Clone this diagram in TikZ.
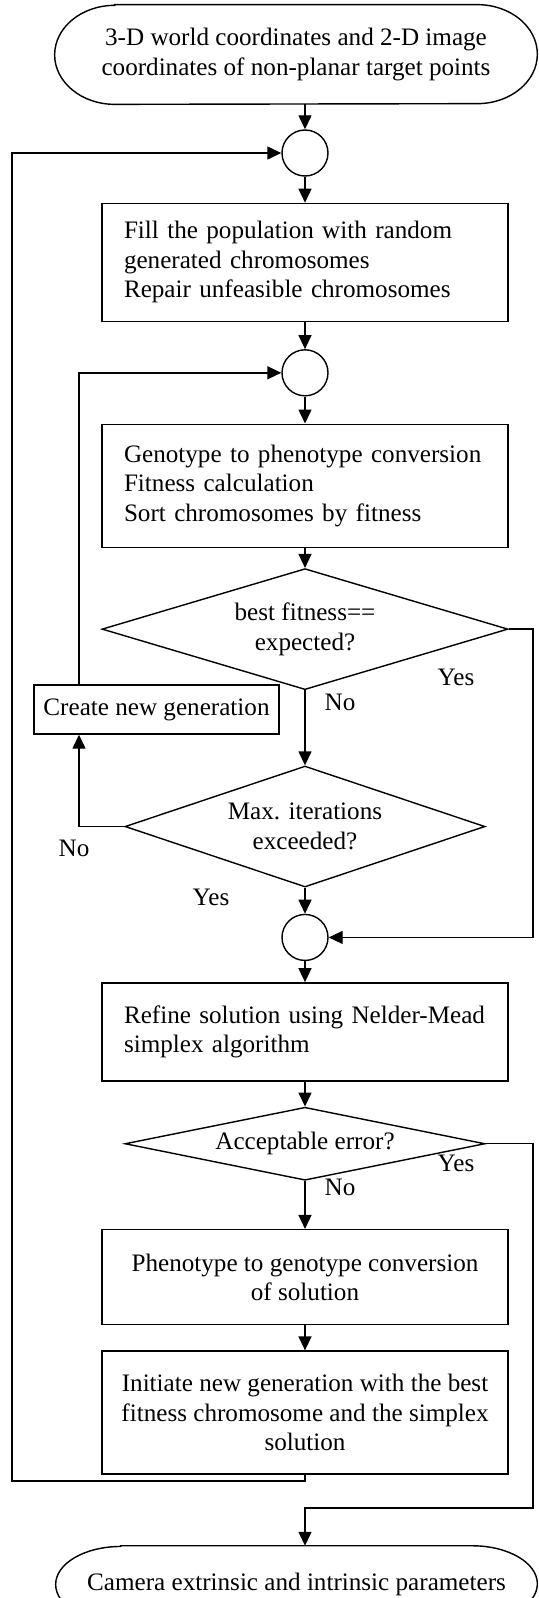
\documentclass[tikz,border=0pt]{standalone}
\usepackage{fontspec}
\setmainfont{Liberation Serif}
\usetikzlibrary{shapes.geometric, arrows.meta, positioning}

\begin{document}
\begin{tikzpicture}[
        every node/.style={font=\fontsize{14.3}{16.8}\selectfont},
        term/.style={rectangle, inner sep=0pt, align=center},
        junction/.style={circle, draw, line width=0.8pt, minimum size=0.92cm, inner sep=0pt},
        stepbox/.style={rectangle, draw, line width=0.8pt, minimum width=8.12cm, inner xsep=0.44cm},
        leftbox/.style={stepbox, text width=7.24cm, align=left},
        midbox/.style={stepbox, inner xsep=0.1cm, align=center},
        decision/.style={diamond, draw, line width=0.8pt, inner sep=0pt, align=center},
        arrow/.style={-{Triangle[length=0.28cm, width=0.26cm]}, line width=0.8pt}
    ]
        \useasboundingbox (0,0) rectangle (10.78,-31.96);

        \node[term, minimum width=9.64cm, minimum height=1.98cm] (start) at (5.92,-1.09) {3-D world coordinates and 2-D image\\coordinates of non-planar target points};
        \draw[line width=0.8pt] ([xshift=1.2cm]start.north west) -- ([xshift=-1.2cm]start.north east)
            arc[start angle=90, end angle=-90, x radius=1.2cm, y radius=0.99cm]
            -- ([xshift=1.2cm]start.south west)
            arc[start angle=270, end angle=90, x radius=1.2cm, y radius=0.99cm] -- cycle;

        \node[junction] (c1) at (6.10,-3.06) {};
        \node[leftbox, minimum height=2.36cm, below=0.52cm of c1] (fill) {Fill the population with random\\generated chromosomes\\Repair unfeasible chromosomes};
        \node[junction, below=0.54cm of fill] (c2) {};
        \node[leftbox, minimum height=2.46cm, below=0.54cm of c2] (eval) {Genotype to phenotype conversion\\Fitness calculation\\Sort chromosomes by fitness};
        \node[decision, aspect=3.35, minimum width=8.12cm, minimum height=2.42cm, below=0.40cm of eval] (best) {best fitness==\\expected?};
        \node[decision, aspect=2.98, minimum width=7.2cm, minimum height=2.42cm, below=1.50cm of best] (maxit) {Max. iterations\\exceeded?};
        \node[stepbox, minimum width=4.9cm, minimum height=0.98cm, inner xsep=0pt] (newgen) at (3.13,-14.19) {Create new generation};
        \node[junction, below=0.52cm of maxit] (c3) {};
        \node[leftbox, minimum height=1.96cm, below=0.42cm of c3] (refine) {Refine solution using Nelder-Mead\\simplex algorithm};
        \node[decision, aspect=4.93, minimum width=7.2cm, minimum height=1.46cm, below=0.50cm of refine] (accept) {Acceptable error?};
        \node[midbox, minimum height=1.9cm, below=0.96cm of accept] (pheno) {Phenotype to genotype conversion\\of solution};
        \node[midbox, minimum height=2.46cm, below=0.50cm of pheno] (init) {Initiate new generation with the best\\fitness chromosome and the simplex\\solution};

        \node[term, minimum width=9.62cm, minimum height=1.52cm, below=1.42cm of init, xshift=-0.17cm] (stop) {Camera extrinsic and intrinsic parameters};
        \draw[line width=0.8pt] ([xshift=1.3cm]stop.north west) -- ([xshift=-1.3cm]stop.north east)
            arc[start angle=90, end angle=-90, x radius=1.3cm, y radius=0.76cm]
            -- ([xshift=1.3cm]stop.south west)
            arc[start angle=270, end angle=90, x radius=1.3cm, y radius=0.76cm] -- cycle;

        % loop corners
        \coordinate (outer) at (0.24,-29.62);
        \coordinate (inner) at (1.58,-14.19);
        \coordinate (right) at (10.66,-18.58);
        \coordinate (exit) at (6.10,-30.16);

        \draw[arrow] (c1 |- start.south) -- (c1.north);
        \draw[arrow] (c1.south) -- (fill.north);
        \draw[arrow] (fill.south) -- (c2.north);
        \draw[arrow] (c2.south) -- (eval.north);
        \draw[arrow] (eval.south) -- (best.north);
        \draw[arrow] (best.south) -- (maxit.north);
        \draw[arrow] (maxit.south) -- (c3.north);
        \draw[arrow] (c3.south) -- (refine.north);
        \draw[arrow] (refine.south) -- (accept.north);
        \draw[arrow] (accept.south) -- (pheno.north);
        \draw[arrow] (pheno.south) -- (init.north);

        \draw[arrow] (init.south) |- (outer) |- (c1.west);
        \draw[arrow] (inner |- newgen.north) |- (c2.west);
        \draw[arrow] (maxit.west) -| (inner |- newgen.south);
        \draw[arrow] (best.east) -| (right |- c3.east) -- (c3.east);
        \draw[arrow] (accept.east) -| (right |- exit) -- (exit) -- (stop.north -| exit);

        % branch labels
        \node (yes1) at (9.12,-13.54) {Yes};
        \node (no1) at (6.80,-14.04) {No};
        \node (no2) at (1.48,-16.96) {No};
        \node (yes2) at (4.22,-17.94) {Yes};
        \node (yes3) at (9.12,-23.26) {Yes};
        \node (no3) at (6.80,-23.74) {No};
    \end{tikzpicture}
\end{document}
